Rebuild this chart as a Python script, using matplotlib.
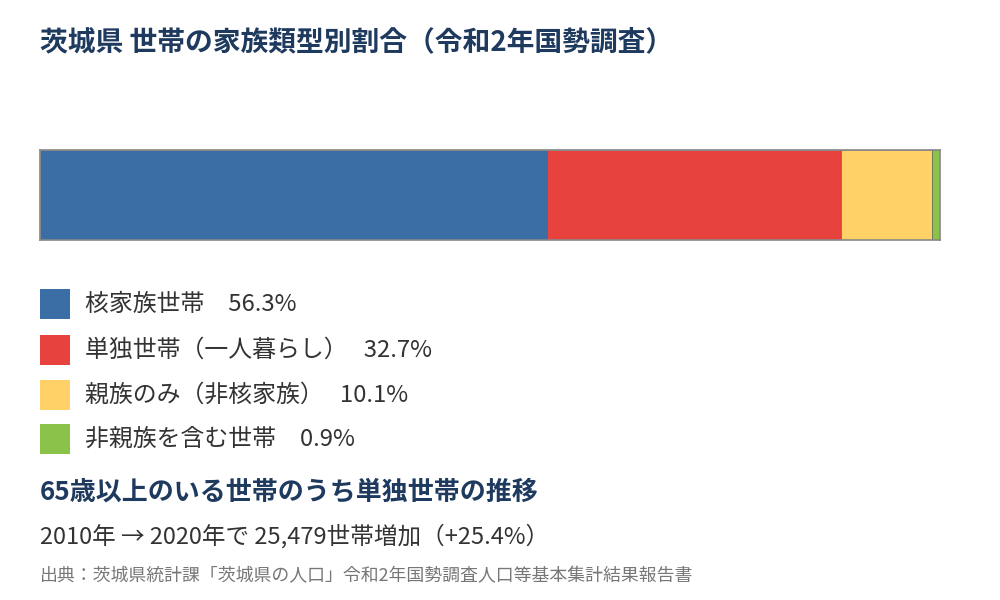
import matplotlib
matplotlib.use("Agg")
import matplotlib.pyplot as plt
from matplotlib.patches import Rectangle

plt.rcParams['font.family'] = ['Noto Sans CJK JP', 'DejaVu Sans']

categories = ["核家族世帯", "単独世帯（一人暮らし）", "親族のみ（非核家族）", "非親族を含む世帯"]
values = [56.3, 32.7, 10.1, 0.9]
colors = ["#3A6EA5", "#E8423F", "#FFD166", "#8BC34A"]

title = "茨城県 世帯の家族類型別割合（令和2年国勢調査）"
subtitle = "65歳以上のいる世帯のうち単独世帯の推移"
note = "2010年 → 2020年で 25,479世帯増加（+25.4%）"
source = "出典：茨城県統計課「茨城県の人口」令和2年国勢調査人口等基本集計結果報告書"

W, H = 1000, 600
fig = plt.figure(figsize=(10, 6), dpi=100)
fig.patch.set_facecolor("white")

ax = fig.add_axes([40 / W, 1 - 240 / H, 900 / W, 90 / H])
left = 0
for v, c in zip(values, colors):
    ax.barh(0, v, left=left, height=1, color=c, edgecolor="#555555", linewidth=0.4)
    left += v
ax.set_xlim(0, sum(values))
ax.set_ylim(-0.5, 0.5)
ax.set_xticks([])
ax.set_yticks([])
for s in ax.spines.values():
    s.set_color("#888888")
    s.set_linewidth(1.2)

navy = "#1F3A5F"
fig.text(40 / W, 1 - 42 / H, title, fontsize=20, fontweight="bold", color=navy,
         va="center", ha="left")

rows_y = [304, 350, 395, 439]
for y, cat, v, c in zip(rows_y, categories, values, colors):
    fig.patches.append(Rectangle((40 / W, 1 - (y + 15) / H), 30 / W, 30 / H,
                                 transform=fig.transFigure, facecolor=c,
                                 edgecolor="none"))
    gap = "   " if cat.endswith("）") else "　"
    fig.text(85 / W, 1 - y / H, f"{cat}{gap}{v:.1f}%", fontsize=17.2, color="#333333",
             va="center", ha="left")

fig.text(40 / W, 1 - 492 / H, subtitle, fontsize=18.7, fontweight="bold", color=navy,
         va="center", ha="left")
fig.text(40 / W, 1 - 536 / H, note, fontsize=17, color="#333333",
         va="center", ha="left")
fig.text(40 / W, 1 - 576 / H, source, fontsize=12.9, color="#777777",
         va="center", ha="left")

fig.savefig("out.png", dpi=100, facecolor="white")
